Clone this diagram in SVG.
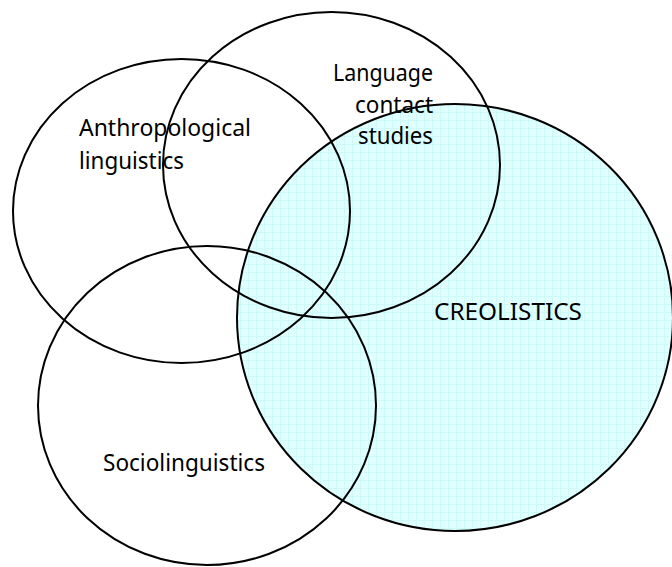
<svg xmlns="http://www.w3.org/2000/svg" width="672" height="567" viewBox="0 0 672 567">
<style>
.c{fill:none;stroke:#000;stroke-width:2}
.t{font-family:"Noto Sans","Open Sans",sans-serif;font-size:23px;fill:#000}
</style>
<defs>
<pattern id="grid" width="8" height="8" patternUnits="userSpaceOnUse">
<rect width="8" height="8" fill="#e0ffff"/>
<path d="M0 0.5H8M0.5 0V8" stroke="#cdf9f9" stroke-width="1"/>
</pattern>
</defs>
<rect width="672" height="567" fill="#fff"/>
<g id="creolistics">
<ellipse cx="455" cy="317.5" rx="218" ry="213.5" fill="url(#grid)" stroke="#000" stroke-width="2"/>
<text class="t" x="434" y="320" textLength="148" lengthAdjust="spacingAndGlyphs">CREOLISTICS</text>
</g>
<g id="anthropological">
<ellipse class="c" cx="181.5" cy="211" rx="168.5" ry="152"/>
<text class="t" x="79" y="136" textLength="172" lengthAdjust="spacingAndGlyphs">Anthropological</text>
<text class="t" x="79" y="169" textLength="105" lengthAdjust="spacingAndGlyphs">linguistics</text>
</g>
<g id="language-contact">
<ellipse class="c" cx="331.5" cy="165" rx="168.5" ry="153"/>
<text class="t" x="333" y="81" textLength="100" lengthAdjust="spacingAndGlyphs">Language</text>
<text class="t" x="355" y="112.5" textLength="78" lengthAdjust="spacingAndGlyphs">contact</text>
<text class="t" x="358" y="144" textLength="75" lengthAdjust="spacingAndGlyphs">studies</text>
</g>
<g id="sociolinguistics">
<ellipse class="c" cx="207" cy="405.5" rx="169" ry="159.5"/>
<text class="t" x="103" y="471" textLength="162" lengthAdjust="spacingAndGlyphs">Sociolinguistics</text>
</g>
<g id="connectors"></g>
</svg>
